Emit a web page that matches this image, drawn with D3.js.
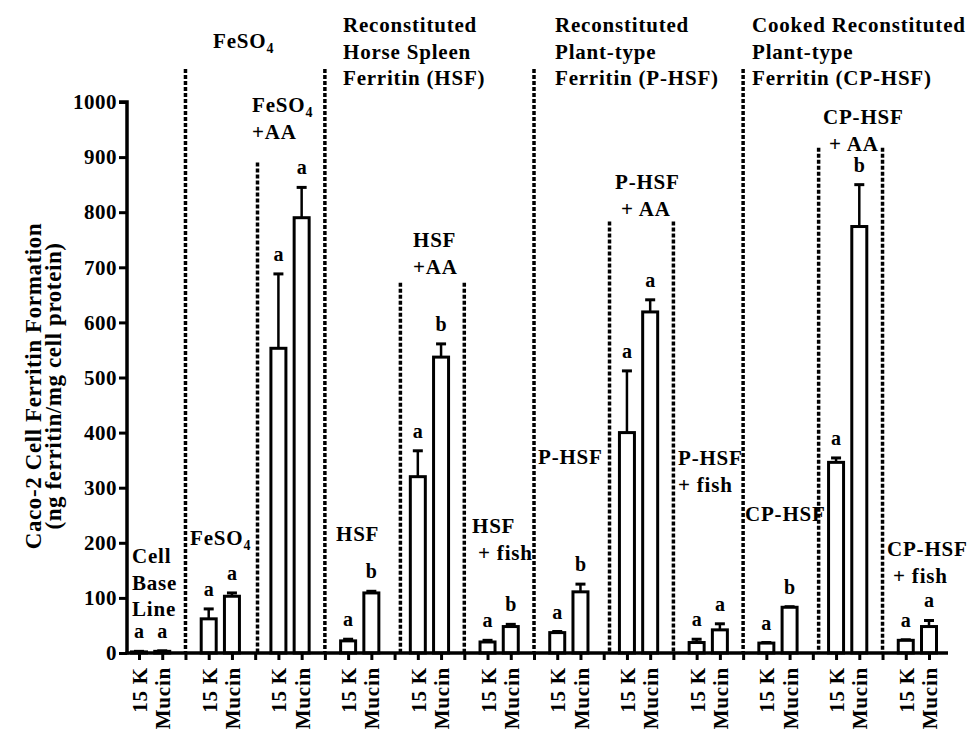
<!DOCTYPE html>
<html>
<head>
<meta charset="utf-8">
<script src="https://cdn.jsdelivr.net/npm/d3@7"></script>
<style>
  body { margin: 0; background: #fff; }
  svg { display: block; }
  text { font-family: "Liberation Serif", "Times New Roman", serif; font-weight: bold; fill: #000; }
</style>
</head>
<body>
<script>
var svgWidth = 975;
var svgHeight = 730;

// data
var treatments = ["Cell Base Line", "FeSO4", "FeSO4 +AA", "HSF", "HSF +AA", "HSF + fish",
                  "P-HSF", "P-HSF + AA", "P-HSF + fish", "CP-HSF", "CP-HSF + AA", "CP-HSF + fish"];
var cellLines = ["15 K", "Mucin"];
var values15K   = [2, 62, 553, 22, 320, 20, 37, 400, 19, 18, 346, 23];
var sem15K      = [1, 18, 135, 3, 47, 3, 2, 112, 6, 1, 8, 1];
var valuesMucin = [3, 103, 790, 109, 537, 48, 111, 619, 42, 83, 774, 48];
var semMucin    = [1, 6, 55, 3, 24, 4, 14, 22, 11, 1, 76, 11];
var letters15K   = ["a", "a", "a", "a", "a", "a", "a", "a", "a", "a", "a", "a"];
var lettersMucin = ["a", "a", "a", "b", "b", "b", "b", "a", "a", "b", "b", "a"];
var yTicks = [0, 100, 200, 300, 400, 500, 600, 700, 800, 900, 1000];

// dotted separators: slot position and top (in y units)
var dividerSlots = [2, 5.1, 8, 11.25, 14, 17, 20.25, 23, 26, 29.25, 32];
var dividerTops  = [1060, 890, 1060, 672, 672, 1060, 783, 783, 1060, 917, 917];

var svg = d3.select("body").append("svg").attr("width", svgWidth).attr("height", svgHeight);

// each treatment takes 3 slots: 15 K, Mucin, gap
var nSlots = treatments.length * 3 - 1;
var x = d3.scaleLinear().domain([0, nSlots - 1]).range([139, 929]);
var y = d3.scaleLinear().domain([0, 1000]).range([653, 102]);
var barW = 15;

var bars = [];
treatments.forEach(function(t, i) {
    bars.push({slot: i * 3, value: values15K[i], sem: sem15K[i], letter: letters15K[i]});
    bars.push({slot: i * 3 + 1, value: valuesMucin[i], sem: semMucin[i], letter: lettersMucin[i]});
});

// dotted separators
svg.selectAll(".divider").data(dividerSlots).join("line")
    .attr("class", "divider")
    .attr("x1", function(d) { return x(d); })
    .attr("x2", function(d) { return x(d); })
    .attr("y1", function(d, i) { return y(dividerTops[i]); })
    .attr("y2", y(0))
    .attr("stroke", "black")
    .attr("stroke-width", 3.5)
    .attr("stroke-dasharray", "4,2");

// error bars
var err = svg.selectAll(".err").data(bars).join("g").attr("class", "err");
err.append("line")
    .attr("x1", function(d) { return x(d.slot); })
    .attr("x2", function(d) { return x(d.slot); })
    .attr("y1", function(d) { return y(d.value); })
    .attr("y2", function(d) { return y(d.value + d.sem); })
    .attr("stroke", "black")
    .attr("stroke-width", 2.5);
err.append("line")
    .attr("x1", function(d) { return x(d.slot) - 5; })
    .attr("x2", function(d) { return x(d.slot) + 5; })
    .attr("y1", function(d) { return y(d.value + d.sem); })
    .attr("y2", function(d) { return y(d.value + d.sem); })
    .attr("stroke", "black")
    .attr("stroke-width", 3);

// bars
svg.selectAll(".bar").data(bars).join("rect")
    .attr("class", "bar")
    .attr("x", function(d) { return x(d.slot) - barW / 2; })
    .attr("y", function(d) { return y(d.value); })
    .attr("width", barW)
    .attr("height", function(d) { return y(0) - y(d.value); })
    .attr("fill", "white")
    .attr("stroke", "black")
    .attr("stroke-width", 3);

// significance letters
svg.selectAll(".letter").data(bars).join("text")
    .attr("class", "letter")
    .attr("x", function(d) { return x(d.slot); })
    .attr("y", function(d) { return y(d.value + d.sem) - 13; })
    .attr("text-anchor", "middle")
    .attr("font-size", 20)
    .text(function(d) { return d.letter; });

// y axis
var yAxis = svg.append("g")
    .attr("transform", "translate(127,0)")
    .call(d3.axisLeft(y).tickValues(yTicks).tickSize(8).tickPadding(2).tickFormat(d3.format("d")));
yAxis.select(".domain").attr("stroke-width", 3.5).attr("d", "M-8," + y(1000) + "H0V" + (y(0) + 1.5));
yAxis.selectAll(".tick line").attr("stroke-width", 3);
yAxis.selectAll(".tick text")
    .attr("font-size", 21)
    .attr("letter-spacing", 0.5)
    .attr("font-family", null);

// x axis
var xAxis = svg.append("g")
    .attr("transform", "translate(0," + y(0) + ")")
    .call(d3.axisBottom(x).tickValues(d3.range(nSlots)).tickSize(7)
        .tickFormat(function(d) { return d % 3 == 2 ? "" : cellLines[d % 3]; }));
xAxis.select(".domain").attr("stroke-width", 3.5).attr("d", "M125.5,0H948");
xAxis.selectAll(".tick line").attr("stroke-width", 3);
xAxis.selectAll(".tick text")
    .attr("font-size", 21)
    .attr("letter-spacing", 0.8)
    .attr("font-family", null)
    .attr("text-anchor", "end")
    .attr("transform", "rotate(-90)")
    .attr("x", -14)
    .attr("y", 0)
    .attr("dy", "0.36em");

// y axis title
var yTitle = svg.append("text")
    .attr("transform", "translate(0,386) rotate(-90)")
    .attr("text-anchor", "middle")
    .attr("font-size", 23)
    .attr("letter-spacing", 0.6);
yTitle.append("tspan").attr("x", 0).attr("y", 41).text("Caco-2 Cell Ferritin Formation");
yTitle.append("tspan").attr("x", 0).attr("y", 61).text("(ng ferritin/mg cell protein)");

// text labels for the groups (layout)
var labels = [
    {x: 213, y: 48, lines: ["FeSO|4"]},
    {x: 343, y: 32, lines: ["Reconstituted", "Horse Spleen", "Ferritin (HSF)"]},
    {x: 555, y: 32, lines: ["Reconstituted", "Plant-type", "Ferritin (P-HSF)"]},
    {x: 752, y: 32, lines: ["Cooked Reconstituted", "Plant-type", "Ferritin (CP-HSF)"]},
    {x: 132, y: 563, lines: ["Cell", "Base", "Line"]},
    {x: 190, y: 545, lines: ["FeSO|4"]},
    {x: 252, y: 112, lines: ["FeSO|4", "+AA"]},
    {x: 336, y: 541, lines: ["HSF"]},
    {x: 413, y: 247, lines: ["HSF", "+AA"]},
    {x: 472, y: 533, lines: ["HSF", " + fish"]},
    {x: 538, y: 464, lines: ["P-HSF"]},
    {x: 615, y: 189, lines: ["P-HSF", " + AA"]},
    {x: 678, y: 465, lines: ["P-HSF", "+ fish"]},
    {x: 745, y: 521, lines: ["CP-HSF"]},
    {x: 823, y: 124, lines: ["CP-HSF", " + AA"]},
    {x: 887, y: 556, lines: ["CP-HSF", " + fish"]}
];

labels.forEach(function(l) {
    l.lines.forEach(function(line, j) {
        var t = svg.append("text")
            .attr("x", l.x)
            .attr("y", l.y + j * 26.5)
            .attr("font-size", 21)
            .attr("letter-spacing", 0.8)
            .attr("xml:space", "preserve");
        var parts = line.split("|");
        t.append("tspan").text(parts[0]);
        if (parts.length > 1) {
            t.append("tspan").attr("font-size", 14).attr("dy", 5).text(parts[1]);
        }
    });
});
</script>
</body>
</html>
